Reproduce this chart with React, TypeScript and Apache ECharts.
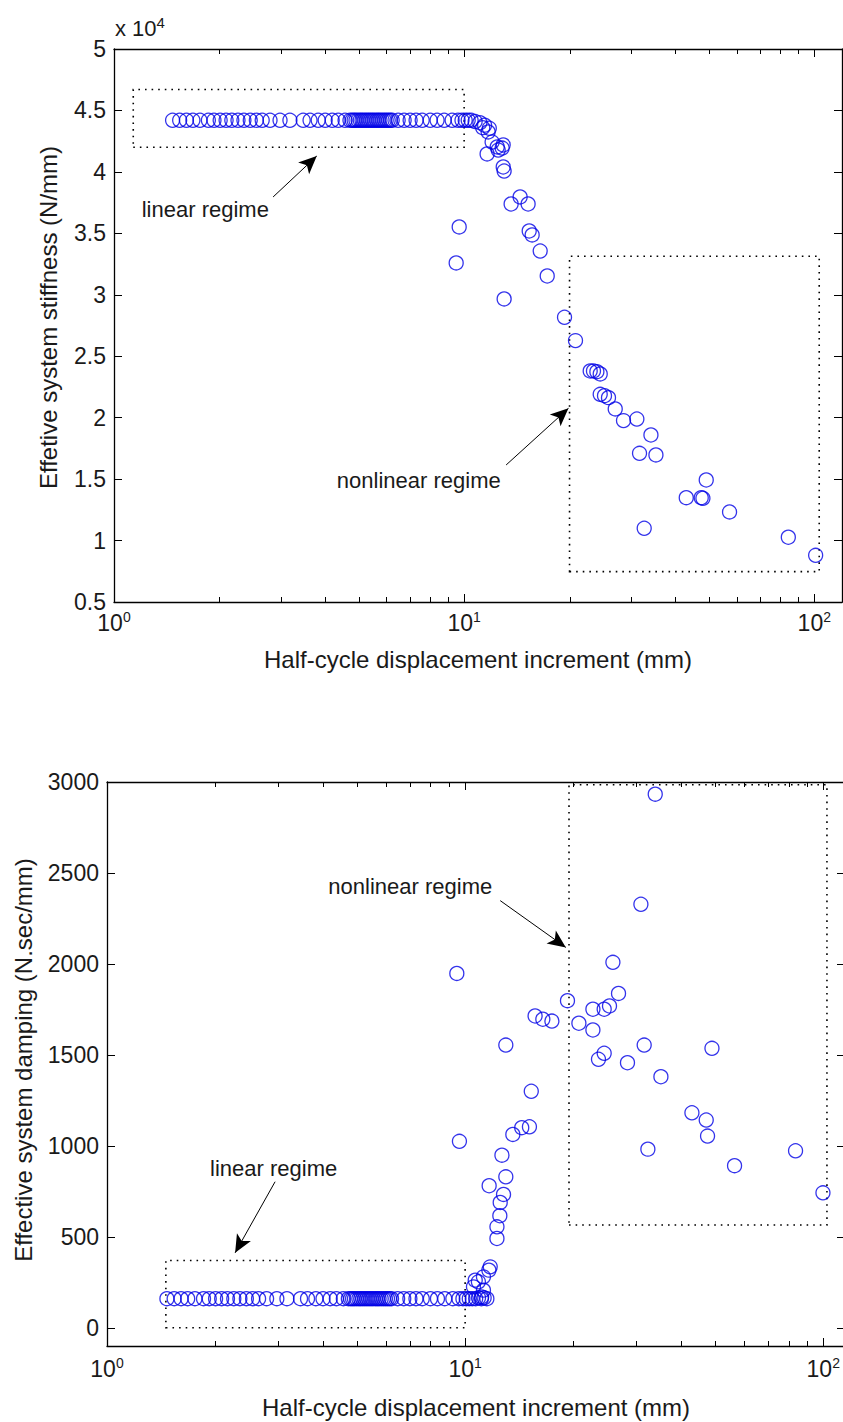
import React, { useEffect, useRef } from 'react';
import * as echarts from 'echarts';

// ---------- data ----------
// half-cycle displacement increments in the linear regime (mm)
const linearX = [1.47, 1.54, 1.61, 1.68, 1.76, 1.86, 1.93, 2.01, 2.09, 2.17, 2.26, 2.35, 2.45, 2.55, 2.65, 2.79, 2.98, 3.18, 3.47, 3.63, 3.83, 4.01, 4.2, 4.37, 4.57, 4.72, 4.79, 4.85, 4.91, 4.98, 5.05, 5.11, 5.18, 5.25, 5.32, 5.39, 5.46, 5.53, 5.61, 5.68, 5.75, 5.83, 5.91, 5.99, 6.07, 6.15, 6.23, 6.48, 6.74, 7.01, 7.29, 7.59, 8.0, 8.37, 8.77, 9.24, 9.61, 9.86, 10.07, 10.27, 10.47];
const stiffLinear = [44200, 44200, 44200, 44200, 44200, 44200, 44200, 44200, 44200, 44200, 44200, 44200, 44200, 44200, 44200, 44200, 44200, 44200, 44200, 44200, 44200, 44200, 44200, 44200, 44200, 44200, 44200, 44200, 44200, 44200, 44200, 44200, 44200, 44200, 44200, 44200, 44200, 44200, 44200, 44200, 44200, 44200, 44200, 44200, 44200, 44200, 44200, 44200, 44200, 44200, 44200, 44200, 44200, 44200, 44200, 44200, 44200, 44200, 44200, 44200, 44200];
const dampLinear = [160, 160, 160, 160, 160, 160, 160, 160, 160, 160, 160, 160, 160, 160, 160, 160, 160, 160, 160, 160, 160, 160, 160, 160, 160, 160, 160, 160, 160, 160, 160, 160, 160, 160, 160, 160, 160, 160, 160, 160, 160, 160, 160, 160, 160, 160, 160, 160, 160, 160, 160, 160, 160, 160, 160, 160, 160, 160, 160, 160, 160];

const stiffNonX = [10.75, 11.09, 11.3, 11.44, 11.8, 11.71, 12.02, 12.43, 12.84, 12.51, 12.93, 11.63, 12.93, 13.01, 9.49, 9.68, 13.01, 14.45, 13.62, 15.23, 15.34, 15.64, 16.49, 17.27, 19.35, 20.8, 22.91, 23.41, 23.94, 24.47, 24.47, 25.17, 25.84, 27.01, 28.52, 31.14, 34.16, 31.69, 35.3, 32.68, 49.14, 43.09, 47.55, 48.08, 57.28, 84.31, 100.9];
const stiffNonY = [44100, 44000, 43600, 43800, 43550, 43250, 42430, 42030, 41940, 41780, 42190, 41460, 40400, 40070, 32590, 35520, 29660, 37960, 37390, 37390, 35190, 34870, 33560, 31530, 28170, 26270, 23800, 23800, 23740, 23560, 21900, 21790, 21630, 20710, 19760, 19890, 18590, 17100, 16970, 11000, 14930, 13490, 13490, 13440, 12330, 10270, 8800];

const dampNonX = [10.7, 10.9, 11.1, 11.3, 11.5, 10.55, 10.89, 11.12, 11.25, 10.67, 11.25, 11.65, 11.75, 12.27, 12.27, 12.5, 12.53, 12.8, 11.67, 12.99, 12.67, 13.59, 14.39, 15.12, 9.64, 15.3, 12.99, 9.48, 15.68, 16.48, 17.47, 19.31, 20.78, 22.74, 22.74, 24.45, 25.3, 25.86, 26.81, 30.96, 33.95, 24.45, 23.57, 28.4, 31.62, 35.21, 48.89, 42.98, 47.12, 47.52, 32.38, 56.53, 83.68, 99.8];
const dampNonY = [160, 165, 160, 165, 160, 225, 253, 170, 207, 262, 280, 317, 335, 491, 555, 616, 689, 733, 781, 830, 949, 1063, 1100, 1105, 1025, 1300, 1554, 1948, 1714, 1696, 1686, 1798, 1674, 1751, 1637, 1751, 1769, 2009, 1838, 2328, 2933, 1509, 1476, 1457, 1554, 1380, 1536, 1182, 1142, 1054, 982, 891, 973, 742];

// axis ticks
const majorXTicks = [1, 10, 100];
const minorXTicks = [2, 3, 4, 5, 6, 7, 8, 9, 20, 30, 40, 50, 60, 70, 80, 90];
const dampYTicks = [0, 500, 1000, 1500, 2000, 2500, 3000];

// annotations (data coordinates)
const stiffLinearBox = [[1.135, 42000], [10, 46700]];
const stiffNonBox = [[20, 7470], [103.3, 33130]];
const stiffLinearArrow = [[2.847, 37960], [3.794, 41290]];
const stiffNonArrow = [[13.18, 16150], [19.86, 20760]];
const stiffLinearText = [1.2, 36900];
const stiffNonText = [4.33, 14850];

const dampLinearBox = [[1.46, 0], [10, 370]];
const dampNonBox = [[19.5, 565], [102.4, 2985]];
const dampLinearArrow = [[2.947, 803], [2.279, 412]];
const dampNonArrow = [[12.53, 2348], [19.11, 2091]];
const dampLinearText = [1.94, 876];
const dampNonText = [4.15, 2425];

const FONT = "'Liberation Sans', Arial, Helvetica, sans-serif";
const INK = '#1a1a1a';
const BLUE = '#0000e6';

function tickSeries(xi: number, yi: number, vals: number[], yBase: number, len: number) {
  return {
    type: 'custom',
    xAxisIndex: xi,
    yAxisIndex: yi,
    silent: true,
    clip: false,
    z: 5,
    data: vals.map((v) => [v, yBase]),
    renderItem: (params: any, api: any) => {
      const pt = api.coord([api.value(0), api.value(1)]);
      const cs = params.coordSys;
      const x = Math.round(pt[0]) + 0.5;
      const yb = cs.y + cs.height;
      return {
        type: 'group',
        children: [
          { type: 'line', shape: { x1: x, y1: yb, x2: x, y2: yb - len }, style: { stroke: '#000', lineWidth: 1 } },
          { type: 'line', shape: { x1: x, y1: cs.y, x2: x, y2: cs.y + len }, style: { stroke: '#000', lineWidth: 1 } },
        ],
      };
    },
  };
}

function xLabelFmt(v: number) {
  const e = Math.round(Math.log10(v));
  return '{b|10}{s|' + e + '}';
}

function xAxes(gi: number, max: number, labelMargin: number, pad: number, nameGap: number) {
  return [
    {
      type: 'log', logBase: 10, gridIndex: gi, min: 1, max, position: 'bottom',
      axisLine: { show: true, onZero: false, lineStyle: { color: '#000', width: 1.3 } },
      axisTick: { show: false },
      splitLine: { show: false },
      minorTick: { show: false },
      axisLabel: {
        show: true, margin: labelMargin, showMaxLabel: false, showMinLabel: true,
        formatter: xLabelFmt,
        rich: {
          b: { fontSize: 23, fontFamily: FONT, color: INK, lineHeight: 24, padding: [pad, 0, 0, 0], verticalAlign: 'bottom' },
          s: { fontSize: 14, fontFamily: FONT, color: INK, lineHeight: 16, verticalAlign: 'top' },
        },
      },
      name: 'Half-cycle displacement increment (mm)',
      nameLocation: 'middle',
      nameGap,
      nameTextStyle: { fontSize: 24, fontFamily: FONT, color: INK },
    },
    {
      type: 'value', gridIndex: gi, min: 0, max: 1, position: 'top',
      axisLine: { show: true, onZero: false, lineStyle: { color: '#000', width: 1.3 } },
      axisTick: { show: false },
      axisLabel: { show: false },
      splitLine: { show: false },
    },
  ];
}

function annot(boxA: number[][], boxB: number[][], arrA: number[][], arrB: number[][], txtA: number[], txtB: number[]) {
  return {
    markArea: {
      silent: true,
      itemStyle: { color: 'rgba(0,0,0,0)', borderColor: '#000', borderWidth: 1.6, borderType: [1.6, 5] },
      label: { show: false },
      data: [
        [{ coord: boxA[0] }, { coord: boxA[1] }],
        [{ coord: boxB[0] }, { coord: boxB[1] }],
      ],
    },
    markLine: {
      silent: true,
      symbol: ['none', 'arrow'],
      symbolSize: [12, 18],
      lineStyle: { color: '#000', width: 1, type: 'solid' },
      itemStyle: { color: '#000' },
      label: { show: false },
      data: [
        [{ coord: arrA[0] }, { coord: arrA[1] }],
        [{ coord: arrB[0] }, { coord: arrB[1] }],
      ],
    },
    markPoint: {
      silent: true,
      symbol: 'circle',
      symbolSize: 0,
      label: { show: true, position: 'right', distance: 0, formatter: '{b}', fontSize: 22, fontFamily: FONT, color: INK },
      data: [
        { coord: txtA, name: 'linear regime' },
        { coord: txtB, name: 'nonlinear regime' },
      ],
    },
  };
}

export default function App() {
  const ref = useRef<HTMLDivElement>(null);
  useEffect(() => {
    if (!ref.current) return;
    const chart = echarts.init(ref.current, null, { renderer: 'svg' });

    const stiffData = linearX.map((x, i) => [x, stiffLinear[i]]).concat(stiffNonX.map((x, i) => [x, stiffNonY[i]]));
    const dampData = linearX.map((x, i) => [x, dampLinear[i]]).concat(dampNonX.map((x, i) => [x, dampNonY[i]]));

    const yLabelStyle = { fontSize: 23, fontFamily: FONT, color: INK, margin: 8 };

    const option: any = {
      animation: false,
      backgroundColor: '#fff',
      graphic: [
        {
          type: 'text', left: 115, top: 9, silent: true,
          style: {
            text: '{a|x 10}{b|4}',
            rich: {
              a: { fontSize: 22, fontFamily: FONT, fill: INK, lineHeight: 24, padding: [8, 0, 0, 0], verticalAlign: 'bottom' },
              b: { fontSize: 15, fontFamily: FONT, fill: INK, lineHeight: 16, verticalAlign: 'top' },
            },
          },
        },
      ],
      grid: [
        { left: 114, top: 49, width: 728, height: 553, containLabel: false, outerBoundsMode: 'none' },
        { left: 107, top: 782, width: 738, height: 564, containLabel: false, outerBoundsMode: 'none' },
      ],
      xAxis: [...xAxes(0, 120, 8, 4, 45), ...xAxes(1, 115, 10, 7, 49)],
      yAxis: [
        {
          type: 'value', gridIndex: 0, min: 5000, max: 50000, interval: 5000, position: 'left',
          axisLine: { show: true, onZero: false, lineStyle: { color: '#000', width: 1.3 } },
          axisTick: { show: true, inside: true, length: 8, lineStyle: { color: '#000' } },
          splitLine: { show: false },
          axisLabel: { ...yLabelStyle, formatter: (v: number) => String(v / 10000) },
          name: 'Effetive system stiffness (N/mm)',
          nameLocation: 'middle', nameGap: 54,
          nameTextStyle: { fontSize: 24, fontFamily: FONT, color: INK, padding: [0, 0, 0, 16] },
        },
        {
          type: 'value', gridIndex: 0, min: 5000, max: 50000, interval: 5000, position: 'right',
          axisLine: { show: true, onZero: false, lineStyle: { color: '#000', width: 1.3 } },
          axisTick: { show: true, inside: true, length: 8, lineStyle: { color: '#000' } },
          splitLine: { show: false },
          axisLabel: { show: false },
        },
        {
          type: 'value', gridIndex: 1, min: -100, max: 3000, position: 'left',
          axisLine: { show: true, onZero: false, lineStyle: { color: '#000', width: 1.3 } },
          axisTick: { show: true, inside: true, length: 8, customValues: dampYTicks, lineStyle: { color: '#000' } },
          splitLine: { show: false },
          axisLabel: { ...yLabelStyle, customValues: dampYTicks, formatter: (v: number) => String(v) },
          name: 'Effective system damping (N.sec/mm)',
          nameLocation: 'middle', nameGap: 72,
          nameTextStyle: { fontSize: 24, fontFamily: FONT, color: INK, padding: [0, 0, 0, 8] },
        },
        {
          type: 'value', gridIndex: 1, min: -100, max: 3000, position: 'right',
          axisLine: { show: true, onZero: false, lineStyle: { color: '#000', width: 1.3 } },
          axisTick: { show: true, inside: true, length: 8, customValues: dampYTicks, lineStyle: { color: '#000' } },
          splitLine: { show: false },
          axisLabel: { show: false },
        },
      ],
      series: [
        {
          type: 'scatter', xAxisIndex: 0, yAxisIndex: 0, data: stiffData,
          symbol: 'circle', symbolSize: 14, silent: true,
          itemStyle: { color: 'rgba(0,0,0,0)', borderColor: BLUE, borderWidth: 1.3 },
          emphasis: { disabled: true },
          ...annot(stiffLinearBox, stiffNonBox, stiffLinearArrow, stiffNonArrow, stiffLinearText, stiffNonText),
        },
        {
          type: 'scatter', xAxisIndex: 2, yAxisIndex: 2, data: dampData,
          symbol: 'circle', symbolSize: 14, silent: true,
          itemStyle: { color: 'rgba(0,0,0,0)', borderColor: BLUE, borderWidth: 1.3 },
          emphasis: { disabled: true },
          ...annot(dampLinearBox, dampNonBox, dampLinearArrow, dampNonArrow, dampLinearText, dampNonText),
        },
        tickSeries(0, 0, majorXTicks, 5000, 8),
        tickSeries(0, 0, minorXTicks, 5000, 5),
        tickSeries(2, 2, majorXTicks, -100, 8),
        tickSeries(2, 2, minorXTicks, -100, 5),
      ],
    };
    chart.setOption(option);
    return () => chart.dispose();
  }, []);

  return <div ref={ref} style={{ position: 'absolute', left: 0, top: 0, width: 843, height: 1422, background: '#fff' }} />;
}
